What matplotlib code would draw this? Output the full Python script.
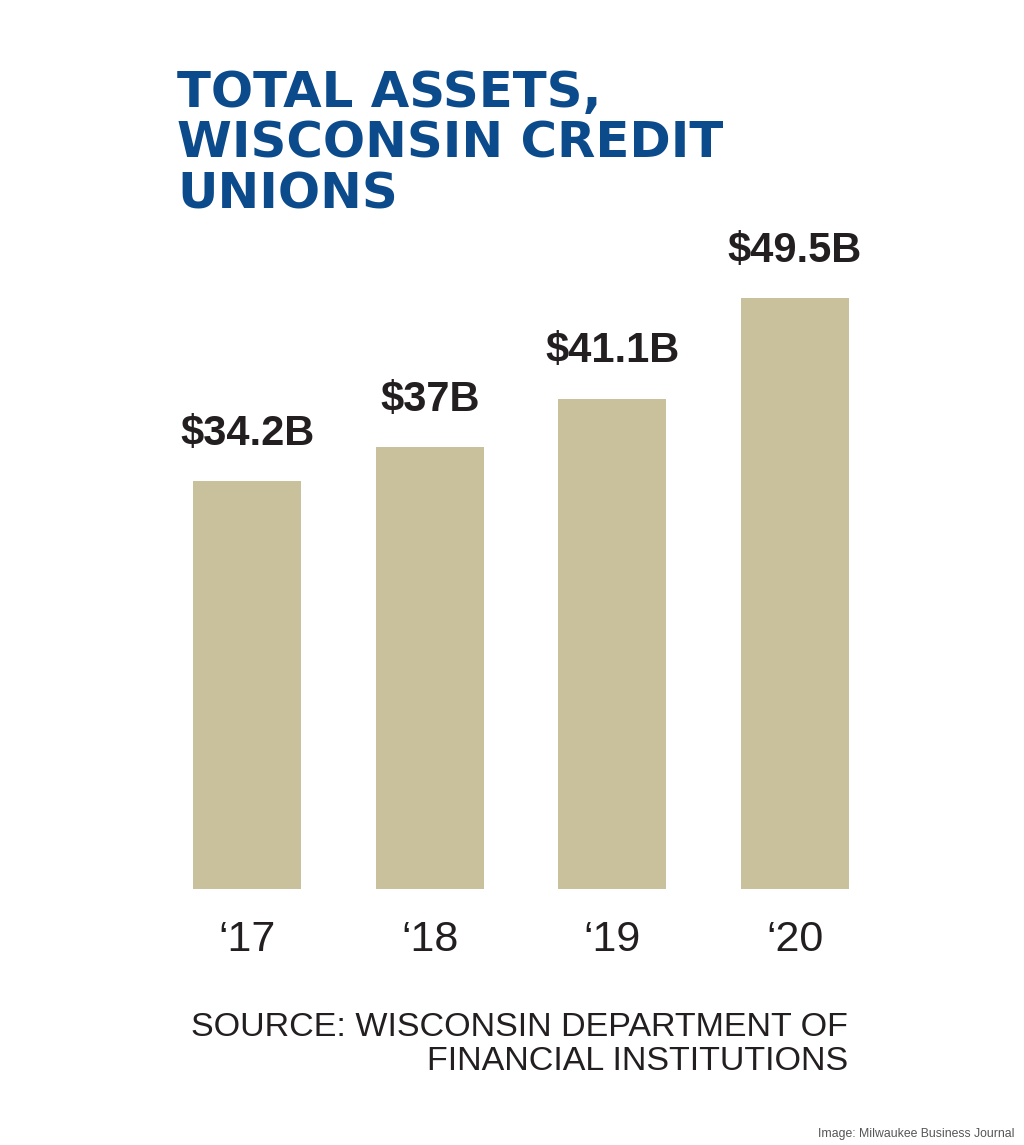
import matplotlib
matplotlib.use('Agg')
import matplotlib.pyplot as plt

# Data
years = ['\u201817', '\u201818', '\u201819', '\u201820']
assets = [34.2, 37.0, 41.1, 49.5]
value_labels = ['$34.2B', '$37B', '$41.1B', '$49.5B']

bar_color = '#c9c09c'
title_color = '#0b4a8b'
text_color = '#231f20'

plt.rcParams['font.family'] = ['Liberation Sans', 'DejaVu Sans']

fig = plt.figure(figsize=(10.24, 11.45), dpi=100)
fig.patch.set_facecolor('white')

# axes placed so bars land where the reference has them
ax = fig.add_axes([193 / 1024, 1 - 889 / 1145, 656 / 1024, 716 / 1145])
x = list(range(len(years)))
bars = ax.bar(x, assets, width=0.592, color=bar_color)
ax.set_xlim(-0.296, 3.296)
ax.set_ylim(0, 60)

for xi, v, lab in zip(x, assets, value_labels):
    ax.annotate(lab, (xi, v), xytext=(0, 26), textcoords='offset points',
                ha='center', va='baseline', fontsize=30, fontweight='bold',
                color=text_color)

ax.set_xticks(x)
ax.set_xticklabels(years, fontsize=31, color=text_color)
ax.tick_params(axis='x', length=0, pad=22)
ax.set_yticks([])
for s in ax.spines.values():
    s.set_visible(False)

# Title, one line per row so the pitch matches
title_lines = ['TOTAL ASSETS,', 'WISCONSIN CREDIT', 'UNIONS']
for i, line in enumerate(title_lines):
    fig.text(177 / 1024, 1 - (107 + 50.5 * i) / 1145, line,
             ha='left', va='baseline', fontsize=35.8, fontweight='bold',
             family='DejaVu Sans', color=title_color)

# Source
fig.text(848 / 1024, 1 - 1028 / 1145, 'SOURCE: WISCONSIN DEPARTMENT OF',
         ha='right', va='center', fontsize=24.5, color=text_color)
fig.text(848 / 1024, 1 - 1062 / 1145, 'FINANCIAL INSTITUTIONS',
         ha='right', va='center', fontsize=24.5, color=text_color)

# Credit
fig.text(1015 / 1024, 1 - 1134 / 1145, 'Image: Milwaukee Business Journal',
         ha='right', va='center', fontsize=8.8, color='#555555')

plt.savefig('out.png', dpi=100)
